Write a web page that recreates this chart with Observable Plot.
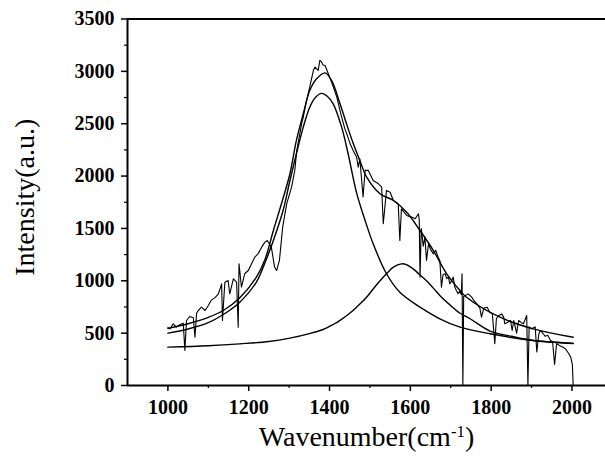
<!DOCTYPE html>
<html>
<head>
<meta charset="utf-8">
<script src="https://cdn.jsdelivr.net/npm/d3@7"></script>
<script src="https://cdn.jsdelivr.net/npm/@observablehq/plot@0.6"></script>
<style>
  html, body { margin: 0; padding: 0; background: white; }
</style>
</head>
<body>
<div id="chart"></div>
<script>
// Raw Raman spectrum
const spectrumW = [1000,1005,1013,1021,1030,1038,1042,1046,1054,1063,1067,1071,1075,1083,1092,1100,1108,1116,1125,1133,1135,1141,1149,1153,1162,1170,1174,1176,1182,1190,1199,1207,1215,1223,1232,1240,1246,1256,1264,1269,1276,1284,1294,1306,1314,1319,1331,1335,1342,1351,1360,1364,1372,1376,1380,1384,1389,1397,1405,1418,1426,1430,1438,1443,1451,1459,1467,1471,1475,1483,1488,1496,1508,1521,1529,1533,1541,1550,1558,1570,1574,1578,1591,1603,1612,1620,1622,1624,1627,1632,1636,1640,1645,1650,1657,1663,1669,1673,1677,1681,1686,1690,1694,1698,1702,1706,1710,1714,1718,1722,1726,1728,1730,1732,1743,1752,1757,1765,1772,1776,1782,1790,1797,1803,1809,1813,1819,1826,1831,1834,1839,1848,1852,1856,1863,1868,1875,1880,1888,1891,1894,1900,1909,1913,1918,1922,1929,1934,1940,1947,1952,1957,1962,1970,1978,1984,1991,1997,2001,2003];
const spectrumI = [555,540,589,557,582,595,334,621,659,646,462,690,716,748,716,764,818,837,876,971,621,987,1003,876,1019,987,557,1162,939,1067,1098,1162,1225,1257,1321,1369,1385,1321,1131,1098,1194,1512,1735,1894,2054,2245,2499,2563,2700,2850,3010,3041,3010,3105,3090,3060,3056,2977,2897,2754,2626,2563,2451,2400,2308,2240,2181,2085,2165,1800,2054,2054,1958,1926,1894,1544,1863,1846,1767,1735,1385,1687,1624,1608,1592,1640,1590,1035,1500,1330,1420,1194,1353,1300,1257,1290,1225,1194,939,1060,1067,1020,1035,971,1000,1035,940,907,876,900,870,1067,0,850,875,844,812,780,740,653,740,748,700,684,400,640,668,684,653,589,600,620,525,621,500,621,600,589,668,0,560,541,560,320,494,526,494,470,480,430,420,200,400,380,366,350,310,270,200,0];

// Fitted Lorentzian components and their sum
const dBandW = [1000,1050,1100,1137,1178,1219,1240,1261,1285,1302,1318,1335,1351,1365,1380,1395,1409,1430,1446,1467,1488,1508,1541,1574,1624,1673,1723,1797,1904,2003];
const dBandI = [500,540,600,678,796,987,1170,1385,1671,1958,2213,2467,2658,2750,2790,2760,2690,2467,2213,1840,1576,1353,1067,890,748,637,557,494,430,400];

const gBandW = [1000,1100,1178,1250,1302,1350,1384,1410,1426,1450,1467,1490,1508,1525,1541,1558,1578,1590,1607,1624,1640,1657,1673,1698,1723,1747,1797,1850,1904,2003];
const gBandI = [366,380,398,420,452,495,535,585,622,690,748,835,922,1000,1067,1130,1162,1155,1114,1055,1000,930,860,770,690,640,520,470,430,404];

const fitSumW = [1000,1050,1100,1137,1178,1219,1240,1261,1281,1302,1318,1335,1351,1368,1389,1405,1426,1442,1459,1475,1492,1525,1558,1591,1624,1657,1690,1723,1739,1822,1904,2003];
const fitSumI = [545,590,650,716,838,1034,1200,1480,1735,2022,2340,2595,2817,2929,2985,2913,2690,2499,2308,2149,1990,1831,1767,1655,1480,1289,1067,907,843,652,541,461];

const xMajorTicks = [1000,1200,1400,1600,1800,2000];
const xMinorTicks = [1100,1300,1500,1700,1900];
const yMajorTicks = [0,500,1000,1500,2000,2500,3000,3500];
const yMinorTicks = [250,750,1250,1750,2250,2750,3250];
const xTitleMain = "Wavenumber(cm";
const xTitleSup = "-1";
const xTitleEnd = ")";
const yTitle = "Intensity(a.u.)";

const spectrum = spectrumW.map((w, i) => ({w, v: spectrumI[i]}));
const dBand = dBandW.map((w, i) => ({w, v: dBandI[i]}));
const gBand = gBandW.map((w, i) => ({w, v: gBandI[i]}));
const fitSum = fitSumW.map((w, i) => ({w, v: fitSumI[i]}));
const xTitle = xTitleMain + xTitleSup + xTitleEnd;

const chart = Plot.plot({
  width: 605,
  height: 456,
  marginLeft: 127,
  marginRight: 0,
  marginTop: 18.5,
  marginBottom: 71,
  x: {domain: [900, 2083]},
  y: {domain: [0, 3500]},
  style: {fontFamily: "Liberation Serif", background: "white", color: "black"},
  marks: [
    Plot.axisX({ticks: xMajorTicks, tickSize: 6, tickPadding: 8, tickFormat: d => String(d), fontSize: 20, fontWeight: "bold", label: null, strokeWidth: 1.5}),
    Plot.axisX({ticks: xMinorTicks, tickSize: 3, tickFormat: () => "", label: null, strokeWidth: 1.2}),
    Plot.axisY({ticks: yMajorTicks, tickSize: 6, tickPadding: 7, tickFormat: d => String(d), fontSize: 20, fontWeight: "bold", label: null, strokeWidth: 1.5}),
    Plot.axisY({ticks: yMinorTicks, tickSize: 3, tickFormat: () => "", label: null, strokeWidth: 1.2}),
    Plot.ruleY([0], {stroke: "black", strokeWidth: 2}),
    Plot.ruleY([3500], {stroke: "black", strokeWidth: 2}),
    Plot.ruleX([900], {stroke: "black", strokeWidth: 2}),
    Plot.line(gBand, {x: "w", y: "v", curve: "catmull-rom", stroke: "black", strokeWidth: 1.4}),
    Plot.line(dBand, {x: "w", y: "v", curve: "catmull-rom", stroke: "black", strokeWidth: 1.4}),
    Plot.line(fitSum, {x: "w", y: "v", curve: "catmull-rom", stroke: "black", strokeWidth: 1.4}),
    Plot.line(spectrum, {x: "w", y: "v", stroke: "black", strokeWidth: 1.1}),
    Plot.text([yTitle], {text: d => d, frameAnchor: "left", textAnchor: "middle", lineAnchor: "middle", rotate: -90, dx: -102, dy: -5, fontSize: 28}),
    Plot.text([xTitle], {text: d => d, frameAnchor: "bottom", textAnchor: "middle", lineAnchor: "middle", dy: 52, fontSize: 28})
  ]
});

// Render the "-1" of the x title as a superscript
d3.select(chart).selectAll("text").filter(function() { return this.textContent === xTitle; })
  .each(function() {
    const t = d3.select(this);
    t.text(null);
    t.append("tspan").text(xTitleMain);
    t.append("tspan").attr("dy", "-0.55em").attr("font-size", "60%").text(xTitleSup);
    t.append("tspan").attr("dy", "0.33em").text(xTitleEnd);
  });

document.getElementById("chart").appendChild(chart);
</script>
</body>
</html>
